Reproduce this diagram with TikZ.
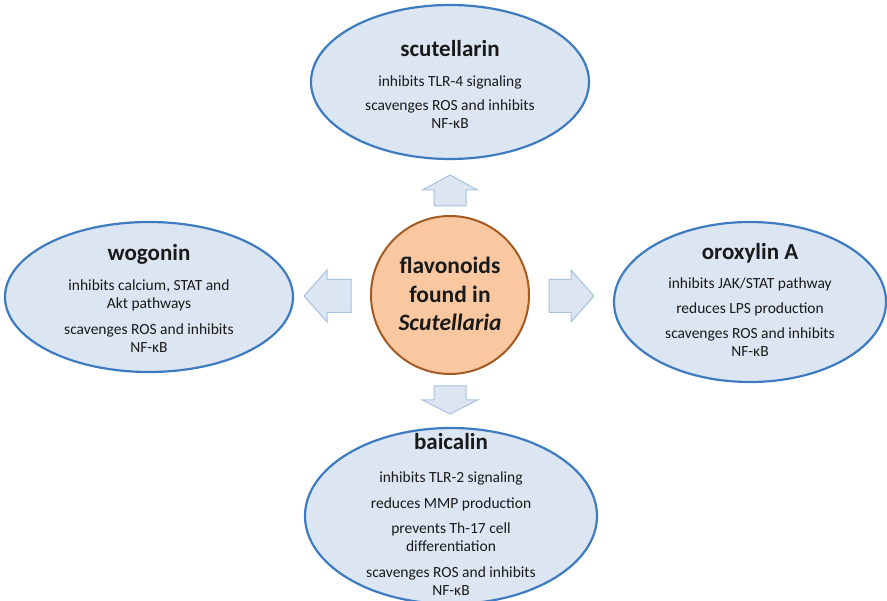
\documentclass[tikz,border=0pt]{standalone}
\usepackage{fontspec}
\setmainfont{Carlito}
\usetikzlibrary{shapes.geometric}

\definecolor{ovalfill}{HTML}{DCE6F2}
\definecolor{ovalline}{HTML}{3F7BC0}
\definecolor{arrowfill}{HTML}{DCE6F2}
\definecolor{arrowline}{HTML}{A9C1DF}
\definecolor{hubfill}{HTML}{FAC8A0}
\definecolor{hubline}{HTML}{A35A23}
\definecolor{ink}{HTML}{1A1A1A}

\tikzset{
  oval/.style={ellipse, draw=ovalline, fill=ovalfill, line width=2.2pt, inner sep=0pt},
  hub/.style={circle, draw=hubline, fill=hubfill, line width=2pt,
              minimum size=158pt, inner sep=0pt},
  blurb/.style={align=center, text=ink, font=\fontsize{15.5}{18}\selectfont, inner sep=0pt},
  hubtext/.style={align=center, text=ink, font=\fontsize{23.5}{28.5}\selectfont\bfseries, inner sep=0pt},
  blockarrow/.style={draw=arrowline, fill=arrowfill, line width=1pt, line join=miter},
}

% heading of each compound
\newcommand\heading[1]{{\fontsize{23}{26}\selectfont\bfseries #1}}

% block arrow: tail centre, direction angle, length, head length, shaft half width, head half width
\newcommand\bigarrow[6]{%
  \path[blockarrow, shift={(#1)}, rotate=#2]
    (0,-#5) -- ({#3-#4},-#5) -- ({#3-#4},-#6) -- (#3,0)
    -- ({#3-#4},#6) -- ({#3-#4},#5) -- (0,#5) -- cycle;}

\begin{document}
\begin{tikzpicture}[x=1pt, y=-1pt]
  \useasboundingbox (0,0) rectangle (887,601);

  % central hub
  \node[hub] (hub) at (450,295) {};
  \node[hubtext] (hub-text) at ([yshift=1pt]hub.center) {flavonoids\\found in\\\textit{Scutellaria}};

  % the four compounds
  \node[oval, minimum width=278pt, minimum height=154pt] (scut) at (450,82) {};
  \node[oval, minimum width=288pt, minimum height=150pt] (wogo) at (149,297) {};
  \node[oval, minimum width=272pt, minimum height=160pt] (orox) at (750,302) {};
  \node[oval, minimum width=292pt, minimum height=176pt] (baic) at (451,516) {};

  \node[blurb] (scut-text) at ([yshift=-2pt]scut.center)
    {\heading{scutellarin}\\[12pt]
     inhibits TLR-4 signaling\\[6pt]
     scavenges ROS and inhibits\\NF-κB};

  \node[blurb] (wogo-text) at ([yshift=-1pt]wogo.center)
    {\heading{wogonin}\\[12pt]
     inhibits calcium, STAT and\\Akt pathways\\[8pt]
     scavenges ROS and inhibits\\NF-κB};

  \node[blurb] (orox-text) at ([yshift=2pt]orox.center)
    {\heading{oroxylin A}\\[11pt]
     inhibits JAK/STAT pathway\\[7pt]
     reduces LPS production\\[7pt]
     scavenges ROS and inhibits\\NF-κB};

  \node[blurb] (baic-text) at ([yshift=2pt]baic.center)
    {\heading{baicalin}\\[15pt]
     inhibits TLR-2 signaling\\[8pt]
     reduces MMP production\\[7pt]
     prevents Th-17 cell\\differentiation\\[8pt]
     scavenges ROS and inhibits\\NF-κB};

  % block arrows leading out of the hub
  \coordinate (up-tail)    at ([yshift=9pt]hub.north);
  \coordinate (down-tail)  at ([yshift=-11pt]hub.south);
  \coordinate (right-tail) at ([xshift=19pt,yshift=-1pt]hub.east);
  \coordinate (left-tail)  at ([xshift=-19pt,yshift=-1pt]hub.west);

  \bigarrow{up-tail}{90}{31}{15}{16}{27.5}
  \bigarrow{down-tail}{-90}{28}{14}{16}{27.5}
  \bigarrow{right-tail}{0}{45}{23}{16.5}{26}
  \bigarrow{left-tail}{180}{47}{23}{16.5}{26}
\end{tikzpicture}
\end{document}
